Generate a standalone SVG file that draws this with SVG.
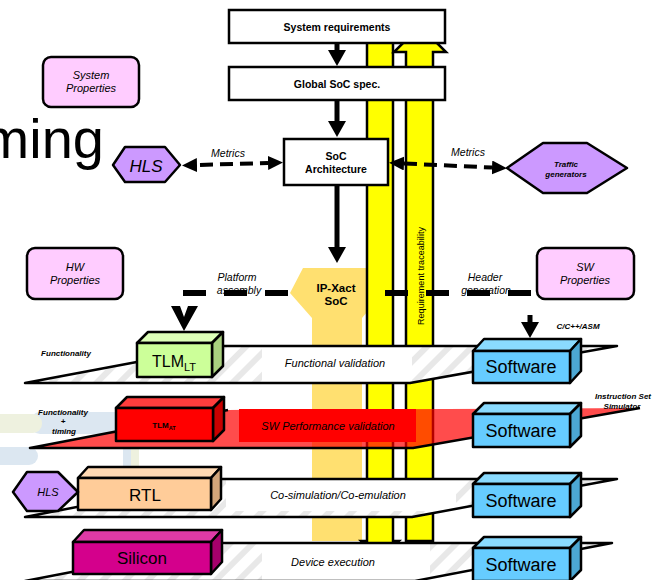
<svg xmlns="http://www.w3.org/2000/svg" width="656" height="580" viewBox="0 0 656 580">
  <defs>
    <style>
      text { font-family: "Liberation Sans", Arial, sans-serif; fill: #000; }
      .b { font-weight: bold; }
      .i { font-style: italic; }
      .box { fill: #fff; stroke: #000; stroke-width: 2.5; }
      .prop { fill: #FFCCFF; stroke: #000; stroke-width: 2.5; }
      .hex { fill: #CC99FF; stroke: #000; stroke-width: 2.5; stroke-linejoin: round; }
      .edge { fill: none; stroke: #000; stroke-width: 2.5; stroke-linejoin: round; }
      .cub { stroke: #000; stroke-width: 2.5; stroke-linejoin: round; }
      .bar { fill: #FFFF00; stroke: #000; stroke-width: 2.5; stroke-linejoin: miter; }
      .solid { fill: none; stroke: #000; stroke-width: 5; }
      .dash-thick { fill: none; stroke: #000; stroke-width: 6; stroke-dasharray: 23 18; }
      .dash-thin { fill: none; stroke: #000; stroke-width: 4; stroke-dasharray: 13 7; }
      .sw-front { fill: #66CCFF; } .sw-top { fill: #8ADBFF; } .sw-side { fill: #4CA7D3; }
      .sw-label { font-size: 18px; text-anchor: middle; }
      .plane-label { font-size: 11px; font-style: italic; text-anchor: middle; }
      .tiny { font-size: 8px; font-weight: bold; font-style: italic; text-anchor: middle; }
    </style>
    <pattern id="hatch" patternUnits="userSpaceOnUse" width="16" height="16" patternTransform="rotate(45)">
      <rect width="16" height="16" fill="#fff"/>
      <rect width="6" height="16" fill="#E8E8E8"/>
    </pattern>
    <marker id="head" viewBox="0 0 16 18" refX="0" refY="9" markerWidth="16" markerHeight="18" markerUnits="userSpaceOnUse" orient="auto-start-reverse">
      <path d="M0,0 L16,9 L0,18 Z" fill="#000"/>
    </marker>
    <marker id="head-s" viewBox="0 0 15 14" refX="0" refY="7" markerWidth="15" markerHeight="14" markerUnits="userSpaceOnUse" orient="auto-start-reverse">
      <path d="M0,0 L15,7 L0,14 Z" fill="#000"/>
    </marker>
    <clipPath id="clip-p1"><polygon points="25,383 222,346 617,346 410,383"/></clipPath>
    <clipPath id="clip-p3"><polygon points="25,517 222,479 617,479 412,517"/></clipPath>
    <clipPath id="clip-p4"><polygon points="25,581 222,543 612,543 415,581"/></clipPath>
  </defs>

  <!-- faint slide decoration at the left edge -->
  <g id="backdrop">
    <rect x="30" y="412" width="100" height="22" rx="10" fill="#DCE7F1"/>
    <rect x="-10" y="414" width="52" height="19" rx="9" fill="#EEF1DF"/>
    <rect x="-10" y="447" width="48" height="18" rx="9" fill="#DCE7F1"/>
    <rect x="123" y="447" width="8" height="30" fill="#DCE7F1"/>
    <rect x="131" y="447" width="8" height="30" fill="#EEF1DF"/>
  </g>

  <text id="title-fragment" x="104" y="158" font-size="56" text-anchor="end" fill="#111">ming</text>

  <!-- property boxes -->
  <g id="sys-props">
    <rect class="prop" x="43" y="57" width="96" height="50" rx="8"/>
    <text class="i" x="91" y="79" font-size="11" text-anchor="middle" fill="#222">System</text>
    <text class="i" x="91" y="92" font-size="11" text-anchor="middle" fill="#222">Properties</text>
  </g>
  <g id="hw-props">
    <rect class="prop" x="27" y="248" width="96" height="51" rx="8"/>
    <text class="i" x="75" y="271" font-size="11" text-anchor="middle" fill="#222">HW</text>
    <text class="i" x="75" y="284" font-size="11" text-anchor="middle" fill="#222">Properties</text>
  </g>
  <g id="sw-props">
    <rect class="prop" x="537" y="248" width="97" height="51" rx="8"/>
    <text class="i" x="585" y="271" font-size="11" text-anchor="middle" fill="#222">SW</text>
    <text class="i" x="585" y="284" font-size="11" text-anchor="middle" fill="#222">Properties</text>
  </g>

  <!-- IP-XACT SoC description with its stem -->
  <g id="ipxact">
    <polygon points="303,268 368,268 383,293 362,318 362,541 312,541 312,318 290,293" fill="#FFE070"/>
    <text class="b" x="336" y="292" font-size="11.5" text-anchor="middle">IP-Xact</text>
    <text class="b" x="336" y="305" font-size="11.5" text-anchor="middle">SoC</text>
  </g>

  <!-- requirement traceability bars -->
  <g id="trace-bars">
    <polygon class="bar" points="367,30 393,30 393,541 399,541 380,560 361,541 367,541"/>
    <polygon class="bar" points="406,541 406,52 394,52 420,26 446,52 433,52 433,541"/>
    <text transform="translate(424,276) rotate(-90)" font-size="9" text-anchor="middle" fill="#1C2C8C" textLength="98">Requirement traceability</text>
  </g>

  <!-- specification chain -->
  <g id="sys-req">
    <rect class="box" x="229" y="10" width="216" height="33"/>
    <text class="b" x="337" y="31" font-size="10.5" text-anchor="middle">System requirements</text>
  </g>
  <g id="global-spec">
    <rect class="box" x="229" y="67" width="216" height="33"/>
    <text class="b" x="337" y="88" font-size="10.5" text-anchor="middle">Global SoC spec.</text>
  </g>
  <g id="soc-arch">
    <rect class="box" x="284" y="139" width="104" height="46"/>
    <text class="b" x="336" y="160" font-size="10.5" text-anchor="middle">SoC</text>
    <text class="b" x="336" y="173" font-size="10.5" text-anchor="middle">Architecture</text>
  </g>

  <g id="hls-top">
    <polygon class="hex" points="113,165 125,147 165,147 180,165 165,182 125,182"/>
    <text class="i" x="146" y="172" font-size="17" text-anchor="middle" fill="#222">HLS</text>
  </g>
  <g id="traffic-gen">
    <polygon class="hex" points="507,168 543,143 587,143 627,168 587,193 543,193"/>
    <text class="b i" x="566" y="167" font-size="8" text-anchor="middle">Traffic</text>
    <text class="b i" x="566" y="177" font-size="8" text-anchor="middle">generators</text>
  </g>

  <!-- connector labels (drawn beneath the dashes) -->
  <g id="connector-labels" font-size="10.5">
    <text class="i" x="228" y="157" text-anchor="middle" fill="#222">Metrics</text>
    <text class="i" x="468" y="156" text-anchor="middle" fill="#222">Metrics</text>
    <text class="i" x="237" y="281" text-anchor="middle" fill="#222">Platform</text>
    <text class="i" x="239" y="294" text-anchor="middle" fill="#222">assembly</text>
    <text class="i" x="485" y="281" text-anchor="middle" fill="#222">Header</text>
    <text class="i" x="486" y="294" text-anchor="middle" fill="#222">generation</text>
    <text class="tiny" x="578" y="329" font-size="8.5">C/C++/ASM</text>
  </g>

  <g id="connectors">
    <path class="solid" d="M337,43 V50" marker-end="url(#head)"/>
    <path class="solid" d="M337,100 V121" marker-end="url(#head)"/>
    <path class="solid" d="M337,185 V247" marker-end="url(#head)"/>
    <path class="dash-thin" d="M197,165 L268,163" stroke-dashoffset="17" marker-start="url(#head-s)" marker-end="url(#head-s)"/>
    <path class="dash-thin" d="M404,163.5 L492,167.5" marker-start="url(#head-s)" marker-end="url(#head-s)"/>
    <path class="dash-thick" d="M288,293 H182"/>
    <polygon points="171,306 180,306 184,317 188,306 198,306 184,331" fill="#000"/>
    <path class="dash-thick" d="M385,293 H533"/>
    <path class="solid" d="M530,315 V322" marker-end="url(#head)"/>
  </g>

  <!-- abstraction level: functional -->
  <g id="plane-functional">
    <polygon points="25,383 222,346 617,346 410,383" fill="url(#hatch)"/>
    <rect x="262" y="347" width="150" height="35" fill="#fff" clip-path="url(#clip-p1)"/>
    <polygon class="edge" points="25,383 222,346 617,346 410,383"/>
    <text class="plane-label" x="335" y="367">Functional validation</text>
  </g>
  <g id="tlm-lt">
    <polygon class="cub" points="137,343 148,332 223,332 212,343" fill="#DDFFB8"/>
    <polygon class="cub" points="212,343 223,332 223,366 212,377" fill="#A9D17F"/>
    <rect class="cub" x="137" y="343" width="75" height="34" fill="#CCFF99"/>
    <text x="174" y="367" font-size="16" text-anchor="middle">TLM<tspan font-size="11" dy="4">LT</tspan></text>
  </g>
  <g id="sw-1">
    <polygon class="cub sw-top" points="473,351 484,339 581,339 570,351"/>
    <polygon class="cub sw-side" points="570,351 581,339 581,371 570,383"/>
    <rect class="cub sw-front" x="473" y="351" width="97" height="32"/>
    <text class="sw-label" x="521" y="373">Software</text>
  </g>
  <text class="tiny" x="66" y="356">Functionality</text>

  <!-- abstraction level: approximately timed -->
  <g id="plane-perf">
    <polygon points="30,448 228,410 640,408 413,448" fill="#FF0000" fill-opacity="0.7"/>
    <rect x="239" y="409" width="177" height="33" fill="#FF0000"/>
    <polyline class="edge" points="228,410 30,448 413,448 640,408"/>
    <text class="plane-label" x="328" y="430">SW Performance validation</text>
  </g>
  <g id="tlm-at">
    <polygon class="cub" points="116,408 127,397 224,397 213,408" fill="#FF3D3D"/>
    <polygon class="cub" points="213,408 224,397 224,430 213,441" fill="#C80000"/>
    <rect class="cub" x="116" y="408" width="97" height="33" fill="#FF0000"/>
    <text class="b" x="164" y="428" font-size="8" text-anchor="middle">TLM<tspan font-size="5.5" dy="2">AT</tspan></text>
  </g>
  <g id="sw-2">
    <polygon class="cub sw-top" points="473,414 484,403 581,403 570,414"/>
    <polygon class="cub sw-side" points="570,414 581,403 581,436 570,447"/>
    <rect class="cub sw-front" x="473" y="414" width="97" height="33"/>
    <text class="sw-label" x="521" y="437">Software</text>
  </g>
  <text class="tiny" x="63" y="415">Functionality</text>
  <text class="tiny" x="63" y="424">+</text>
  <text class="tiny" x="64" y="434">timing</text>
  <text class="tiny" x="623" y="399" font-size="8.5">Instruction Set</text>
  <text class="tiny" x="622" y="409" font-size="8.5">Simulator</text>

  <!-- abstraction level: register transfer -->
  <g id="plane-cosim">
    <polygon points="25,517 222,479 617,479 412,517" fill="url(#hatch)"/>
    <rect x="226" y="480" width="230" height="31" fill="#fff" clip-path="url(#clip-p3)"/>
    <polygon class="edge" points="25,517 222,479 617,479 412,517"/>
    <text class="plane-label" x="338" y="499">Co-simulation/Co-emulation</text>
  </g>
  <g id="rtl">
    <polygon class="cub" points="78,478 88,467 221,467 211,478" fill="#FFD9B3"/>
    <polygon class="cub" points="211,478 221,467 221,499 211,510" fill="#D2A57A"/>
    <rect class="cub" x="78" y="478" width="133" height="32" fill="#FFCC99"/>
    <text x="145" y="501" font-size="17" text-anchor="middle">RTL</text>
  </g>
  <g id="hls-rtl">
    <polygon class="hex" points="13,492 27,472 58,472 78,492 58,511 27,511"/>
    <text class="i" x="48" y="496" font-size="11" text-anchor="middle" fill="#333">HLS</text>
  </g>
  <g id="sw-3">
    <polygon class="cub sw-top" points="473,484 484,473 581,473 570,484"/>
    <polygon class="cub sw-side" points="570,484 581,473 581,506 570,517"/>
    <rect class="cub sw-front" x="473" y="484" width="97" height="33"/>
    <text class="sw-label" x="521" y="507">Software</text>
  </g>

  <!-- abstraction level: silicon -->
  <g id="plane-device">
    <polygon points="25,581 222,543 612,543 415,581" fill="url(#hatch)"/>
    <rect x="262" y="544" width="168" height="37" fill="#fff" clip-path="url(#clip-p4)"/>
    <polygon class="edge" points="25,581 222,543 612,543 415,581"/>
    <text class="plane-label" x="333" y="566">Device execution</text>
  </g>
  <g id="silicon">
    <polygon class="cub" points="73,542 84,530 222,530 211,542" fill="#DE3AA6"/>
    <polygon class="cub" points="211,542 222,530 222,562 211,574" fill="#A5006B"/>
    <rect class="cub" x="73" y="542" width="138" height="32" fill="#D4008C"/>
    <text x="142" y="564" font-size="17" text-anchor="middle" fill="#fff">Silicon</text>
  </g>
  <g id="sw-4">
    <polygon class="cub sw-top" points="473,548 484,537 581,537 570,548"/>
    <polygon class="cub sw-side" points="570,548 581,537 581,570 570,581"/>
    <rect class="cub sw-front" x="473" y="548" width="97" height="33"/>
    <text class="sw-label" x="521" y="571">Software</text>
  </g>
</svg>
